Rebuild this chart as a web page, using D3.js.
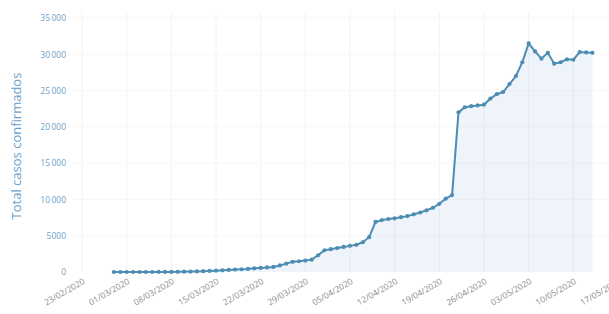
<!DOCTYPE html>
<html>
<head>
<meta charset="utf-8">
<script src="https://cdn.jsdelivr.net/npm/d3@7"></script>
<style>
  body { margin: 0; background: #fff; }
  svg { display: block; font-family: "Open Sans", sans-serif; }
</style>
</head>
<body>
<div id="chart"></div>
<script>
// first day of data is 28/02/2020, one value per day
const START_DATE = '2020-02-28';
const casos = [
  0, 0, 0, 0, 1, 1, 2, 6, 10, 17,
  28, 43, 62, 86, 117, 145, 180, 234, 290, 345,
  380, 430, 500, 560, 630, 700, 900, 1150, 1400, 1480,
  1580, 1700, 2300, 3000, 3150, 3300, 3450, 3600, 3750, 4100,
  4800, 6900, 7150, 7300, 7400, 7550, 7700, 7950, 8200, 8500,
  8850, 9400, 10100, 10600, 22000, 22700, 22850, 22950, 23050, 23900,
  24500, 24800, 25900, 27000, 28900, 31500, 30400, 29400, 30200, 28700,
  28900, 29300, 29250, 30300, 30250, 30200
];
const x_ticks = ['2020-02-23', '2020-03-01', '2020-03-08', '2020-03-15', '2020-03-22', '2020-03-29',
                 '2020-04-05', '2020-04-12', '2020-04-19', '2020-04-26', '2020-05-03', '2020-05-10', '2020-05-17'];
const y_ticks = [0, 5000, 10000, 15000, 20000, 25000, 30000, 35000];
const y_title = 'Total casos confirmados';

const WIDTH = 609, HEIGHT = 314;
const LINE_COLOR = '#4d8db4';

const parse = d3.timeParse('%Y-%m-%d');
const start = parse(START_DATE);
const data = casos.map((v, i) => ({ date: d3.timeDay.offset(start, i), value: v }));

const svg = d3.select('#chart').append('svg')
    .attr('width', WIDTH)
    .attr('height', HEIGHT);

const x = d3.scaleTime()
    .domain([parse('2020-02-23'), parse('2020-05-17')])
    .range([82, 618]);
const y = d3.scaleLinear()
    .domain([0, 35000])
    .range([272, 18]);

// grid
svg.append('g')
    .selectAll('line')
    .data(x_ticks.map(parse))
    .enter().append('line')
    .attr('x1', d => x(d)).attr('x2', d => x(d))
    .attr('y1', y(35000) - 6).attr('y2', y(0))
    .attr('stroke', '#f2f2f4').attr('stroke-width', 1);
svg.append('g')
    .selectAll('line')
    .data(y_ticks.slice(1))
    .enter().append('line')
    .attr('x1', 72).attr('x2', WIDTH)
    .attr('y1', d => y(d)).attr('y2', d => y(d))
    .attr('stroke', '#f7f7f9').attr('stroke-width', 1);

// area + line
const area = d3.area()
    .x(d => x(d.date))
    .y0(y(0))
    .y1(d => y(d.value));
svg.append('path')
    .datum(data)
    .attr('d', area)
    .attr('fill', 'rgba(120,170,210,0.13)');

const line = d3.line()
    .x(d => x(d.date))
    .y(d => y(d.value));
svg.append('path')
    .datum(data)
    .attr('d', line)
    .attr('fill', 'none')
    .attr('stroke', LINE_COLOR)
    .attr('stroke-width', 2);

svg.append('g')
    .selectAll('circle')
    .data(data)
    .enter().append('circle')
    .attr('cx', d => x(d.date))
    .attr('cy', d => y(d.value))
    .attr('r', 2.1)
    .attr('fill', LINE_COLOR);

// y axis labels (plotly style: no separator under 10 000)
const fmtY = v => v >= 10000 ? d3.format(',')(v).replace(/,/g, '\u2009') : String(v);
const yAxis = svg.append('g')
    .attr('transform', 'translate(66,0)')
    .call(d3.axisLeft(y).tickValues(y_ticks).tickFormat(fmtY).tickSize(0).tickPadding(0));
yAxis.select('.domain').remove();
yAxis.selectAll('text')
    .attr('fill', '#6f9fc8')
    .attr('font-size', '8.5px')
    .attr('font-family', '"Open Sans", sans-serif');

// x axis labels
const fmtX = d3.timeFormat('%d/%m/%Y');
const xAxis = svg.append('g')
    .attr('transform', `translate(0,${y(0) + 6})`)
    .call(d3.axisBottom(x).tickValues(x_ticks.map(parse)).tickFormat(fmtX).tickSize(0).tickPadding(0));
xAxis.select('.domain').remove();
xAxis.selectAll('text')
    .attr('fill', '#8c8c8c')
    .attr('font-size', '8.5px')
    .attr('font-family', '"Open Sans", sans-serif')
    .attr('text-anchor', 'end')
    .attr('dy', '0.7em')
    .attr('transform', 'rotate(-30)');

// y title
svg.append('text')
    .attr('transform', `translate(21,146) rotate(-90)`)
    .attr('text-anchor', 'middle')
    .attr('fill', '#6a9fcc')
    .attr('font-size', '13px')
    .attr('font-family', '"Open Sans", sans-serif')
    .text(y_title);
</script>
</body>
</html>
